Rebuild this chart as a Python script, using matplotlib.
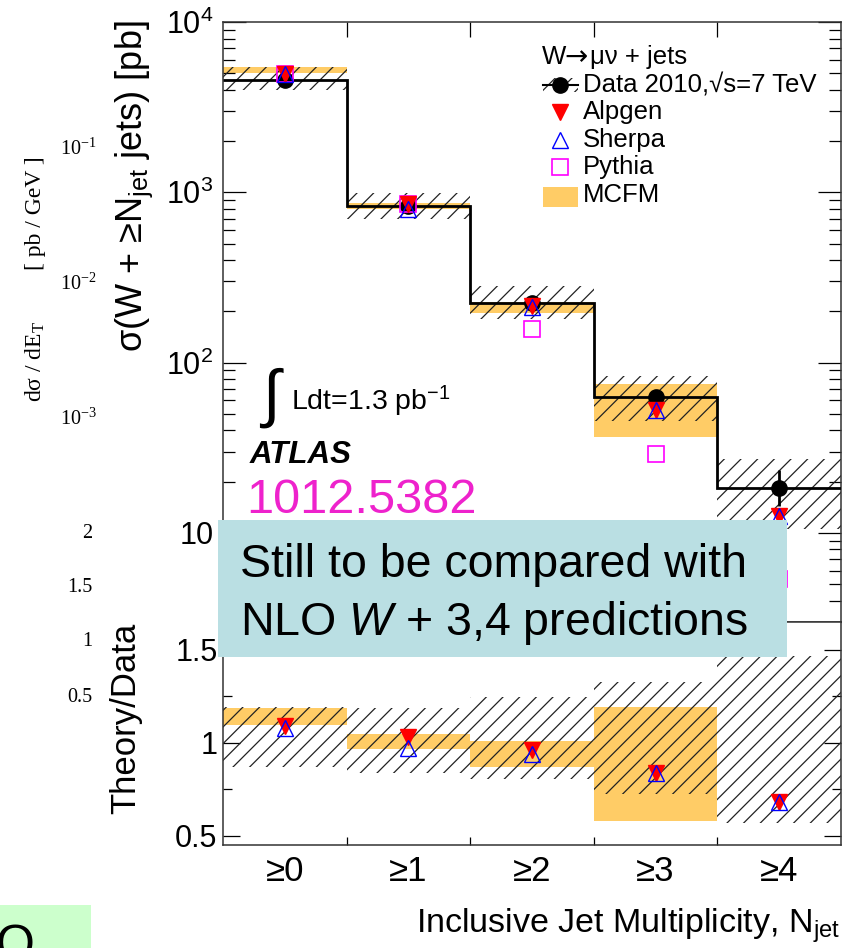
import numpy as np
import matplotlib
matplotlib.use("Agg")
import matplotlib.pyplot as plt
from matplotlib.patches import Rectangle
from matplotlib.lines import Line2D
from matplotlib.ticker import (LogLocator, FixedLocator, MultipleLocator,
                               NullFormatter, FuncFormatter)

plt.rcParams['font.family'] = ['Liberation Sans', 'DejaVu Sans']
plt.rcParams['mathtext.fontset'] = 'custom'
plt.rcParams['mathtext.rm'] = 'Liberation Sans'
plt.rcParams['mathtext.it'] = 'Liberation Sans:italic'
plt.rcParams['mathtext.bf'] = 'Liberation Sans:bold'
plt.rcParams['hatch.linewidth'] = 0.9

# ---- W -> mu nu + jets cross sections vs inclusive jet multiplicity ----
jet_bins = ['≥0', '≥1', '≥2', '≥3', '≥4']
data_xsec = [4560, 828, 225, 63, 18.4]
data_stat_lo = [20, 12, 4, 4, 4.0]
data_stat_hi = [20, 12, 4, 4, 5.1]
data_syst_lo = [3970, 695, 181, 45.5, 10.5]
data_syst_hi = [5430, 985, 280, 83.5, 27.0]
alpgen_xsec = [4970, 853, 216, 52.9, 12.5]
sherpa_xsec = [4925, 803, 211.5, 52.9, 12.5]
pythia_xsec = [4960, 853, 158, 29, 5.4]
mcfm_lo = [4990, 800, 196, 36.5]
mcfm_hi = [5420, 865, 227, 75]

MCFM_COLOR = '#FFCC66'
HATCH = '//'
W, H = 852, 948
fig = plt.figure(figsize=(W / 100, H / 100), dpi=100)


def fx(px):
    return px / W


def fy(py):
    return 1 - py / H


L, R = 223, 841
ax = fig.add_axes([fx(L), fy(622), fx(R) - fx(L), fy(22) - fy(622)])
axr = fig.add_axes([fx(L), fy(845), fx(R) - fx(L), fy(622) - fy(845)])

x = np.arange(len(jet_bins))
edges = np.arange(len(jet_bins) + 1) - 0.5
data = np.array(data_xsec, dtype=float)
slo, shi = np.array(data_syst_lo), np.array(data_syst_hi)
mlo, mhi = np.array(mcfm_lo), np.array(mcfm_hi)
nm = len(mlo)

# ---- upper panel: cross sections ----
ax.bar(x[:nm], mhi - mlo, bottom=mlo, width=1, color=MCFM_COLOR, lw=0, zorder=1)
ax.bar(x, shi - slo, bottom=slo, width=1, fill=False, hatch=HATCH,
       edgecolor='#222222', lw=0, zorder=2)
ax.stairs(data, edges, baseline=None, color='k', lw=2.0, zorder=3)
ax.errorbar(x, data, yerr=[data_stat_lo, data_stat_hi], fmt='o', color='k',
            ms=11, elinewidth=2, capsize=0, zorder=4)
ax.plot(x, pythia_xsec, 's', mfc='none', mec='#FF00FF', ms=12, mew=1.2, zorder=5)
ax.plot(x, alpgen_xsec, 'v', color='red', ms=11, zorder=6)
ax.plot(x, sherpa_xsec, '^', mfc='none', mec='blue', ms=11, mew=1.0, zorder=7)

ax.set_yscale('log')
ax.set_xlim(-0.5, 4.5)
ax.set_ylim(3, 1e4)
ax.yaxis.set_major_locator(LogLocator(base=10, numticks=10))
ax.yaxis.set_minor_locator(LogLocator(base=10, subs=np.arange(2, 10), numticks=20))
ax.yaxis.set_minor_formatter(NullFormatter())


def root_log(v, pos):
    n = int(round(np.log10(v)))
    return '10' if n == 1 else r'$\mathdefault{10^{%d}}$' % n


ax.yaxis.set_major_formatter(FuncFormatter(root_log))
ax.tick_params(axis='y', which='major', direction='in', length=16.5, width=0.9,
               left=True, right=True, labelsize=22, pad=7)
ax.tick_params(axis='y', which='minor', direction='in', length=8.6, width=0.9,
               left=True, right=True)
ax.set_xticks(edges[1:-1])
ax.tick_params(axis='x', which='major', direction='in', length=10.8, width=0.9,
               top=True, bottom=False, labelbottom=False, labeltop=False)

# ---- lower panel: theory / data ----
axr.bar(x[:nm], (mhi - mlo) / data[:nm], bottom=mlo / data[:nm], width=1,
        color=MCFM_COLOR, lw=0, zorder=1)
axr.bar(x, (shi - slo) / data, bottom=slo / data, width=1, fill=False,
        hatch=HATCH, edgecolor='#222222', lw=0, zorder=2)
axr.plot(x, np.array(alpgen_xsec) / data, 'v', color='red', ms=11, zorder=6)
axr.plot(x, np.array(sherpa_xsec) / data, '^', mfc='none', mec='blue', ms=11,
         mew=1.0, zorder=7)
axr.set_xlim(-0.5, 4.5)
axr.set_ylim(0.45, 1.65)
axr.yaxis.set_major_locator(FixedLocator([0.5, 1.0, 1.5]))
axr.yaxis.set_minor_locator(MultipleLocator(0.25))
axr.yaxis.set_major_formatter(FuncFormatter(lambda v, p: '%g' % v))
axr.tick_params(axis='y', which='major', direction='in', length=12, width=0.9,
                left=True, right=True, labelsize=22, pad=4)
axr.tick_params(axis='y', which='minor', direction='in', length=6.5, width=0.9,
                left=True, right=True)
axr.set_xticks(edges[1:-1])
axr.set_xticks(x, minor=True)
axr.set_xticklabels(jet_bins, minor=True)
axr.tick_params(axis='x', which='major', direction='in', length=5.8, width=0.9,
                labelbottom=False)
axr.tick_params(axis='x', which='minor', length=0, labelsize=25, pad=7)

for a in (ax, axr):
    for s in a.spines.values():
        s.set_linewidth(1.1)
        s.set_color('#333333')

# ---- axis titles ----
fig.text(fx(142), fy(20), 'σ(W + ≥N$_{\\rm jet}$ jets) [pb]', rotation=90,
         rotation_mode='anchor', ha='right', va='baseline', fontsize=26)
fig.text(fx(135), fy(623), 'Theory/Data', rotation=90, rotation_mode='anchor',
         ha='right', va='baseline', fontsize=25)
fig.text(fx(840), fy(933), 'Inclusive Jet Multiplicity, N$_{\\rm jet}$',
         ha='right', va='baseline', fontsize=24.5)

# ---- legend ----
LEG_FS = 18.5
fig.text(fx(542), fy(57), 'W', va='center', fontsize=LEG_FS)
fig.text(fx(564), fy(57), '→', va='center', fontsize=20, family=['DejaVu Sans'])
fig.text(fx(590), fy(57), 'μν + jets', va='center', fontsize=LEG_FS)
rows = [85, 112, 140, 167, 195]
labels = ['Data 2010,√s=7 TeV', 'Alpgen', 'Sherpa', 'Pythia', 'MCFM']
for yy, lab in zip(rows, labels):
    fig.text(fx(583), fy(yy), lab, va='center', fontsize=LEG_FS)
mx = fx(560)
fig.add_artist(Rectangle((fx(543), fy(92)), fx(578) - fx(543), fy(78) - fy(92),
                         fill=False, hatch=HATCH, lw=0, edgecolor='#222222',
                         transform=fig.transFigure))
fig.add_artist(Line2D([fx(543), fx(578)], [fy(85)] * 2, color='k', lw=1.5,
                      transform=fig.transFigure))
fig.add_artist(Line2D([mx], [fy(85)], marker='o', color='k', ms=11,
                      transform=fig.transFigure))
fig.add_artist(Line2D([mx], [fy(112)], marker='v', color='red', ms=11,
                      transform=fig.transFigure))
fig.add_artist(Line2D([mx], [fy(140)], marker='^', mfc='none', mec='blue', ms=11,
                      mew=1.0, transform=fig.transFigure))
fig.add_artist(Line2D([mx], [fy(167)], marker='s', mfc='none', mec='#FF00FF',
                      ms=12, mew=1.2, transform=fig.transFigure))
fig.add_artist(Rectangle((fx(543), fy(207)), fx(578) - fx(543), fy(187) - fy(207),
                         facecolor=MCFM_COLOR, lw=0, transform=fig.transFigure))

# ---- luminosity / experiment annotations ----
fig.text(fx(262), fy(398), '∫', fontsize=46, va='center')
fig.text(fx(291), fy(410), 'Ldt=1.3 pb$^{-1}$', va='baseline', fontsize=20.5)
fig.text(fx(250), fy(463), 'ATLAS', va='baseline', fontsize=22.5,
         fontweight='bold', fontstyle='italic')
fig.text(fx(246), fy(513), '1012.5382', va='baseline', fontsize=35,
         color='#EE22CC')

# ---- note box ----
fig.add_artist(Rectangle((fx(218), fy(657)), fx(787) - fx(218), fy(520) - fy(657),
                         facecolor='#BADFE3', lw=0, zorder=10,
                         transform=fig.transFigure))
fig.text(fx(240), fy(577), 'Still to be compared with', va='baseline',
         fontsize=33.5, zorder=11)
fig.text(fx(240), fy(635), 'NLO $W$ + 3,4 predictions', va='baseline',
         fontsize=33.5, zorder=11)

fig.add_artist(Rectangle((0, 0), fx(91), fy(905), facecolor='#CCFFCC', lw=0,
                         zorder=10, transform=fig.transFigure))
fig.text(fx(15), fy(924), 'O', fontsize=36, ha='center', va='top', zorder=11)

# ---- secondary scale annotations (serif) ----
serif = ['Liberation Serif', 'DejaVu Serif']
fig.text(fx(41), fy(213), '[ pb / GeV ]', rotation=90, rotation_mode='anchor',
         ha='center', va='baseline', fontsize=17, family=serif)
fig.text(fx(41), fy(361), 'dσ / dE$_{\\mathdefault{T}}$', rotation=90,
         rotation_mode='anchor', ha='center', va='baseline', fontsize=17,
         family=serif)
for yy, e in zip([155, 290, 425], [-1, -2, -3]):
    fig.text(fx(60), fy(yy), r'$\mathdefault{10^{%d}}$' % e, va='baseline',
             fontsize=14.5, family=serif)
for yy, lab in zip([533, 587, 642, 697], ['2', '1.5', '1', '0.5']):
    fig.text(fx(92), fy(yy), lab, ha='right', va='center', fontsize=14.5,
             family=serif)

fig.savefig('out.png', dpi=100)
